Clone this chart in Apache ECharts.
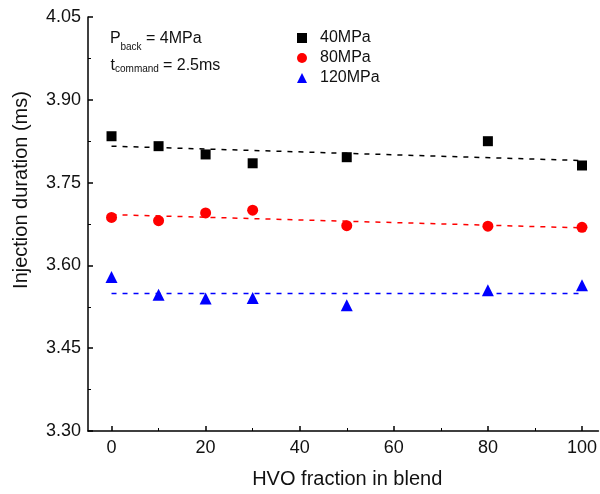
<!DOCTYPE html>
<html>
<head>
<meta charset="utf-8">
<script src="https://cdn.jsdelivr.net/npm/echarts@6/dist/echarts.min.js"></script>
<style>
html,body{margin:0;padding:0;background:#fff;}
#chart{width:600px;height:494px;}
</style>
</head>
<body>
<div id="chart"></div>
<script>
// ---- data ----
var hvoFraction = [0, 10, 20, 30, 50, 80, 100];
var dur40 = [3.834, 3.816, 3.801, 3.785, 3.796, 3.825, 3.781];
var dur80 = [3.687, 3.681, 3.695, 3.700, 3.672, 3.671, 3.669];
var dur120 = [3.579, 3.547, 3.540, 3.541, 3.528, 3.555, 3.564];
var fitX = [0, 100];
var fit40 = [3.816, 3.790];
var fit80 = [3.692, 3.668];
var fit120 = [3.549, 3.549];
var xTickLabels = [0, 20, 40, 60, 80, 100];
var xMinorTicks = [10, 30, 50, 70, 90];
var seriesNames = ['40MPa', '80MPa', '120MPa'];

function pairs(xs, ys) { return xs.map(function (x, i) { return [x, ys[i]]; }); }

var FONT = '"Liberation Sans", Arial, Helvetica, sans-serif';
var chart = echarts.init(document.getElementById('chart'), null, {renderer: 'canvas'});

var axisLineStyle = {color: '#000', width: 1.5};
var X_MIN = -5, X_MAX = 103.5;

var option = {
  backgroundColor: '#fff',
  animation: false,
  textStyle: {fontFamily: FONT},
  grid: {left: 88, right: 0, top: 17, bottom: 61, containLabel: false},
  legend: {
    orient: 'vertical',
    left: 292,
    top: 25,
    itemWidth: 10,
    itemHeight: 10,
    itemGap: 4,
    textStyle: {fontFamily: FONT, fontSize: 16, color: '#111', lineHeight: 16, padding: [0, 0, 0, 8]},
    data: [
      {name: seriesNames[0], icon: 'rect', itemStyle: {color: '#000', opacity: 1}},
      {name: seriesNames[1], icon: 'circle', itemStyle: {color: '#ff0000', opacity: 1}},
      {name: seriesNames[2], icon: 'triangle', itemStyle: {color: '#0000ff', opacity: 1}}
    ]
  },
  xAxis: [{
    type: 'value',
    min: X_MIN, max: X_MAX,
    position: 'bottom',
    axisLine: {show: true, onZero: false, lineStyle: axisLineStyle},
    axisTick: {show: true, inside: true, length: 5, lineStyle: axisLineStyle, customValues: xTickLabels},
    axisLabel: {fontFamily: FONT, fontSize: 18, color: '#111', margin: 8, customValues: xTickLabels},
    splitLine: {show: false},
    name: 'HVO fraction in blend',
    nameLocation: 'middle',
    nameGap: 38,
    nameTextStyle: {fontFamily: FONT, fontSize: 20, color: '#111', padding: [0, 0, 0, 8]}
  }, {
    type: 'value',
    min: X_MIN, max: X_MAX,
    position: 'bottom',
    offset: 0,
    axisLine: {show: false},
    axisTick: {show: true, inside: true, length: 3, lineStyle: {color: '#000', width: 1}, customValues: xMinorTicks},
    axisLabel: {show: false},
    splitLine: {show: false}
  }],
  yAxis: {
    type: 'value',
    min: 3.30, max: 4.05, interval: 0.15,
    axisLine: {show: true, onZero: false, lineStyle: axisLineStyle},
    axisTick: {show: true, inside: true, length: 5, lineStyle: axisLineStyle},
    minorTick: {show: true, splitNumber: 2, length: 3, lineStyle: {color: '#000', width: 1}},
    axisLabel: {fontFamily: FONT, fontSize: 18, color: '#111', margin: 7,
      formatter: function (v) { return v.toFixed(2); }},
    splitLine: {show: false}
  },
  graphic: [
    {type: 'text', x: 21, y: 190, rotation: Math.PI / 2,
      style: {text: 'Injection duration (ms)', font: '20px ' + FONT, fill: '#111', textAlign: 'center', textVerticalAlign: 'middle'}},
    {type: 'text', x: 110, y: 31, style: {text: 'P', font: '16px ' + FONT, fill: '#111', textVerticalAlign: 'top'}},
    {type: 'text', x: 120.5, y: 42, style: {text: 'back', font: '10px ' + FONT, fill: '#111', textVerticalAlign: 'top'}},
    {type: 'text', x: 141.5, y: 31, style: {text: ' = 4MPa', font: '16px ' + FONT, fill: '#111', textVerticalAlign: 'top'}},
    {type: 'text', x: 110.5, y: 58, style: {text: 't', font: '16px ' + FONT, fill: '#111', textVerticalAlign: 'top'}},
    {type: 'text', x: 115, y: 64, style: {text: 'command', font: '10px ' + FONT, fill: '#111', textVerticalAlign: 'top'}},
    {type: 'text', x: 158.5, y: 58, style: {text: ' = 2.5ms', font: '16px ' + FONT, fill: '#111', textVerticalAlign: 'top'}}
  ],
  series: [
    {name: seriesNames[0], type: 'scatter', symbol: 'rect', symbolSize: 10,
      itemStyle: {color: '#000', opacity: 1}, data: pairs(hvoFraction, dur40), z: 3},
    {name: seriesNames[1], type: 'scatter', symbol: 'circle', symbolSize: 11,
      itemStyle: {color: '#ff0000', opacity: 1}, data: pairs(hvoFraction, dur80), z: 3},
    {name: seriesNames[2], type: 'scatter', symbol: 'triangle', symbolSize: 12,
      itemStyle: {color: '#0000ff', opacity: 1}, data: pairs(hvoFraction, dur120), z: 3},
    {name: 'fit40', type: 'line', symbol: 'none', data: pairs(fitX, fit40),
      lineStyle: {color: '#000', width: 1.5, type: [5, 6]}, z: 2},
    {name: 'fit80', type: 'line', symbol: 'none', data: pairs(fitX, fit80),
      lineStyle: {color: '#ff0000', width: 1.5, type: [5, 6]}, z: 2},
    {name: 'fit120', type: 'line', symbol: 'none', data: pairs(fitX, fit120),
      lineStyle: {color: '#0000ff', width: 1.5, type: [5, 6]}, z: 2}
  ]
};
chart.setOption(option);
</script>
</body>
</html>
